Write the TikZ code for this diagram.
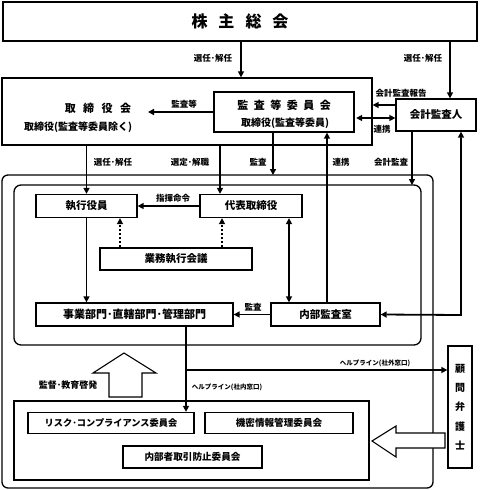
\documentclass[tikz,border=0pt]{standalone}
\usepackage{fontspec}
\setmainfont{Noto Sans CJK JP}
\usetikzlibrary{arrows.meta}
\tikzset{
  box/.style={draw, line width=1.3pt, inner sep=0pt, font=\fontsize{10.5}{12}\selectfont\bfseries},
  lab/.style={inner sep=0pt, font=\fontsize{8.5}{10}\selectfont\bfseries},
  hlab/.style={inner sep=0pt, font=\fontsize{6.5}{8}\selectfont\bfseries},
  arr/.style={line width=1.8pt, -{Triangle[length=6pt,width=6pt]}},
  darr/.style={line width=1.8pt, {Triangle[length=6pt,width=6pt]}-{Triangle[length=6pt,width=6pt]}},
  dotarr/.style={line width=1.8pt, dash pattern=on 2pt off 2pt, -{Triangle[length=6pt,width=6pt]}},
  frame/.style={draw, line width=1.3pt},
  hollow/.style={draw, line width=1.1pt, fill=white, line join=miter}
}
\begin{document}
\begin{tikzpicture}[x=1pt,y=-1pt]
\useasboundingbox (0,0) rectangle (480,490);
% frames
\draw[frame, rounded corners=6pt] (2,175) rectangle (433,488);
\draw[frame, rounded corners=7pt] (14,185) rectangle (421,345);
\draw[frame] (14,401) rectangle (369,480);
\coordinate (outertop) at (0,175);
\coordinate (innertop) at (0,185);
% top boxes
\node[box, minimum width=474pt, minimum height=39pt, font=\fontsize{16}{18}\selectfont\bfseries] (ss) at (240,21.5) {株\hspace{11pt}主\hspace{11pt}総\hspace{11pt}会};
\node[box, minimum width=370pt, minimum height=67pt] (tb) at (187,111.5) {};
\node[inner sep=0pt, font=\fontsize{11}{13}\selectfont\bfseries] at (98,108) {取\hspace{7.5pt}締\hspace{7.5pt}役\hspace{7.5pt}会};
\node[inner sep=0pt, font=\fontsize{10}{12}\selectfont\bfseries] at (78,127) {取締役(監査等委員除く)};
\node[box, fill=white, minimum width=140pt, minimum height=40pt] (kc) at (284,112) {};
\node[inner sep=0pt, font=\fontsize{11}{13}\selectfont\bfseries] at (284,105.5) {監\hspace{5.5pt}査\hspace{5.5pt}等\hspace{5.5pt}委\hspace{5.5pt}員\hspace{5.5pt}会};
\node[inner sep=0pt, font=\fontsize{10}{12}\selectfont\bfseries] at (285,123) {取締役(監査等委員)};
\node[box, minimum width=80pt, minimum height=32pt] (ka) at (436,115) {会計監査人};
% inner boxes
\node[box, minimum width=101pt, minimum height=23pt] (ex) at (86.5,206) {執行役員};
\node[box, minimum width=102pt, minimum height=23pt] (rep) at (251,206) {代表取締役};
\node[box, minimum width=152pt, minimum height=22pt] (meet) at (176,259) {業務執行会議};
\node[box, minimum width=197pt, minimum height=23pt, font=\fontsize{11}{12}\selectfont\bfseries] (dept) at (134.5,314.5) {事業部門･直轄部門･管理部門};
\node[box, minimum width=109pt, minimum height=23pt] (ia) at (325.5,314.5) {内部監査室};
% committees
\node[box, minimum width=166pt, minimum height=21pt, font=\fontsize{9.2}{11}\selectfont\bfseries] (risk) at (111,423) {リスク･コンプライアンス委員会};
\node[box, minimum width=148pt, minimum height=21pt, font=\fontsize{9.6}{11}\selectfont\bfseries] (kimitsu) at (279,423) {機密情報管理委員会};
\node[box, minimum width=139pt, minimum height=22pt, font=\fontsize{9.6}{11}\selectfont\bfseries] (insider) at (192.5,457) {内部者取引防止委員会};
\node[box, minimum width=24pt, minimum height=122pt, align=center, font=\fontsize{10}{19.3}\selectfont\bfseries] (law) at (460,407) {顧\\問\\弁\\護\\士};
% connectors
\draw[arr] (ss.south -| 241,0) -- (tb.north -| 241,0);
\node[lab] at (213,58) {選任･解任};
\draw[arr] (ss.south -| 450,0) -- (ka.north -| 450,0);
\node[lab] at (423,58) {選任･解任};
\coordinate (kt) at (148,112);
\draw[arr] (kc.west) -- (kt);
\node[lab] at (184,104) {監査等};
\draw[arr] (ka.west |- 0,105) -- (tb.east |- 0,105);
\node[lab] at (401,93) {会計監査報告};
\draw[darr] ([xshift=1.5pt]kc.east |- 0,118) -- (ka.west |- 0,118);
\node[lab] at (382,129) {連携};
\draw[arr] (kc.south -| 273,0) -- (outertop -| 273,0);
\node[lab] at (258,162) {監査};
\draw[arr] (ia.north -| 327,0) -- (kc.south -| 327,0);
\node[lab] at (341,162) {連携};
\draw[arr] (tb.south -| ex.north) -- (ex.north);
\node[lab] at (113,162) {選任･解任};
\draw[arr] (tb.south -| 220,0) -- (rep.north -| 220,0);
\node[lab] at (190,162) {選定･解職};
\draw[arr] (ka.south -| 412,0) -- (innertop -| 412,0);
\node[lab] at (391,162) {会計監査};
\coordinate (rc) at (461,315);
\draw[darr] (ia.east) -- (rc) -- (ka.south -| rc);
\draw[arr] (rep.west) -- (ex.east);
\node[lab] at (173,198) {指揮命令};
\draw[dotarr] (meet.north -| 120,0) -- (ex.south -| 120,0);
\draw[dotarr] (meet.north -| 222,0) -- (rep.south -| 222,0);
\draw[darr] (rep.south -| 289,0) -- (ia.north -| 289,0);
\draw[arr] (ex.south) -- (dept.north -| ex.south);
\draw[arr] (ia.west) -- (dept.east);
\node[lab] at (253,307) {監査};
\draw[arr] (dept.south -| 186,0) -- (risk.north -| 186,0);
\node[hlab] at (227,387) {ヘルプライン(社内窓口)};
\coordinate (hb) at (186,370);
\draw[arr] (hb) -- (law.west |- hb);
\node[hlab] at (375,363) {ヘルプライン(社外窓口)};
% hollow arrows
\draw[hollow] (124,353) -- (156,373) -- (142,373) -- (142,397) -- (109,397) -- (109,373) -- (93,373) -- cycle;
\node[lab, font=\fontsize{9}{10}\selectfont\bfseries] at (68,385) {監督･教育啓発};
\draw[hollow] (372,441) -- (396,426) -- (396,433) -- (445,433) -- (445,448) -- (396,448) -- (396,457) -- cycle;
\end{tikzpicture}
\end{document}
